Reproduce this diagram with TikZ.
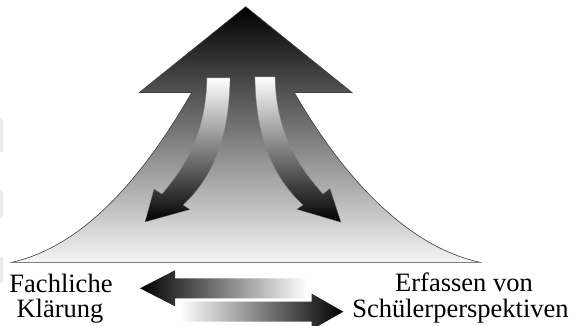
\documentclass[tikz,border=0pt]{standalone}
\usepackage{fontspec}
\setmainfont{Liberation Serif}
\begin{document}
\begin{tikzpicture}[x=1pt,y=-1pt,
  mountain/.style={draw=black!75, line width=0.6pt, top color=black, bottom color=black!4},
  bendarrow/.style={draw=black!45, line width=0.3pt, top color=white, middle color=black!30, bottom color=black},
  toleft/.style={left color=black, right color=white},
  toright/.style={left color=white, right color=black},
  lbl/.style={font=\fontsize{26.5}{25}\selectfont, inner sep=0pt, anchor=base},
  edgemark/.style={fill=black!7, draw=none}]
  \useasboundingbox (0,0) rectangle (576,326);
  \fill[white] (0,0) rectangle (576,326);

  % faint marks along the left edge
  \fill[edgemark] (0,118) rectangle (2.5,152);
  \fill[edgemark] (0,190) rectangle (2.5,218);
  \fill[edgemark] (0,257) rectangle (2.5,283);

  % large upward arrow flaring out into a base
  \path[mountain] (245.7,6.7) -- (352,92.5) -- (294.3,92.5)
    .. controls (336,165) and (400,245) .. (480,262.3)
    -- (11.7,262.3)
    .. controls (90,245) and (150,165) .. (191.7,92.5)
    -- (139.3,92.5) -- cycle;

  % curved arrow bending down to the left
  \path[bendarrow] (207,78) -- (230,78)
    .. controls (229,140) and (212,178) .. (183,205)
    -- (190,209.5) -- (145,222) -- (154,189) -- (162,194)
    .. controls (184,168) and (206,135) .. (207,78) -- cycle;

  % curved arrow bending down to the right
  \path[bendarrow] (255,77) -- (275,77)
    .. controls (276,135) and (300,168) .. (323,194)
    -- (330,188.3) -- (341,222.3) -- (296.7,209.3) -- (303,205)
    .. controls (274,178) and (256,140) .. (255,77) -- cycle;

  % horizontal arrows between the two poles
  \path[toleft] (140,288.3) -- (175,270.3) -- (175,278.3) -- (306.7,278.3)
    -- (306.7,298.3) -- (175,298.3) -- (175,306.3) -- cycle;
  \path[toright] (343.3,311.7) -- (311.7,293.7) -- (311.7,301.7) -- (180,301.7)
    -- (180,321.7) -- (311.7,321.7) -- (311.7,329.7) -- cycle;

  % labels
  \node[lbl] (fachA) at (61,292.7) {Fachliche};
  \node[lbl] (fachB) at (60,317) {Klärung};
  \node[lbl] (erfA) at (464,291.7) {Erfassen von};
  \node[lbl] (erfB) at (460.5,317) {Schülerperspektiven};
\end{tikzpicture}
\end{document}
